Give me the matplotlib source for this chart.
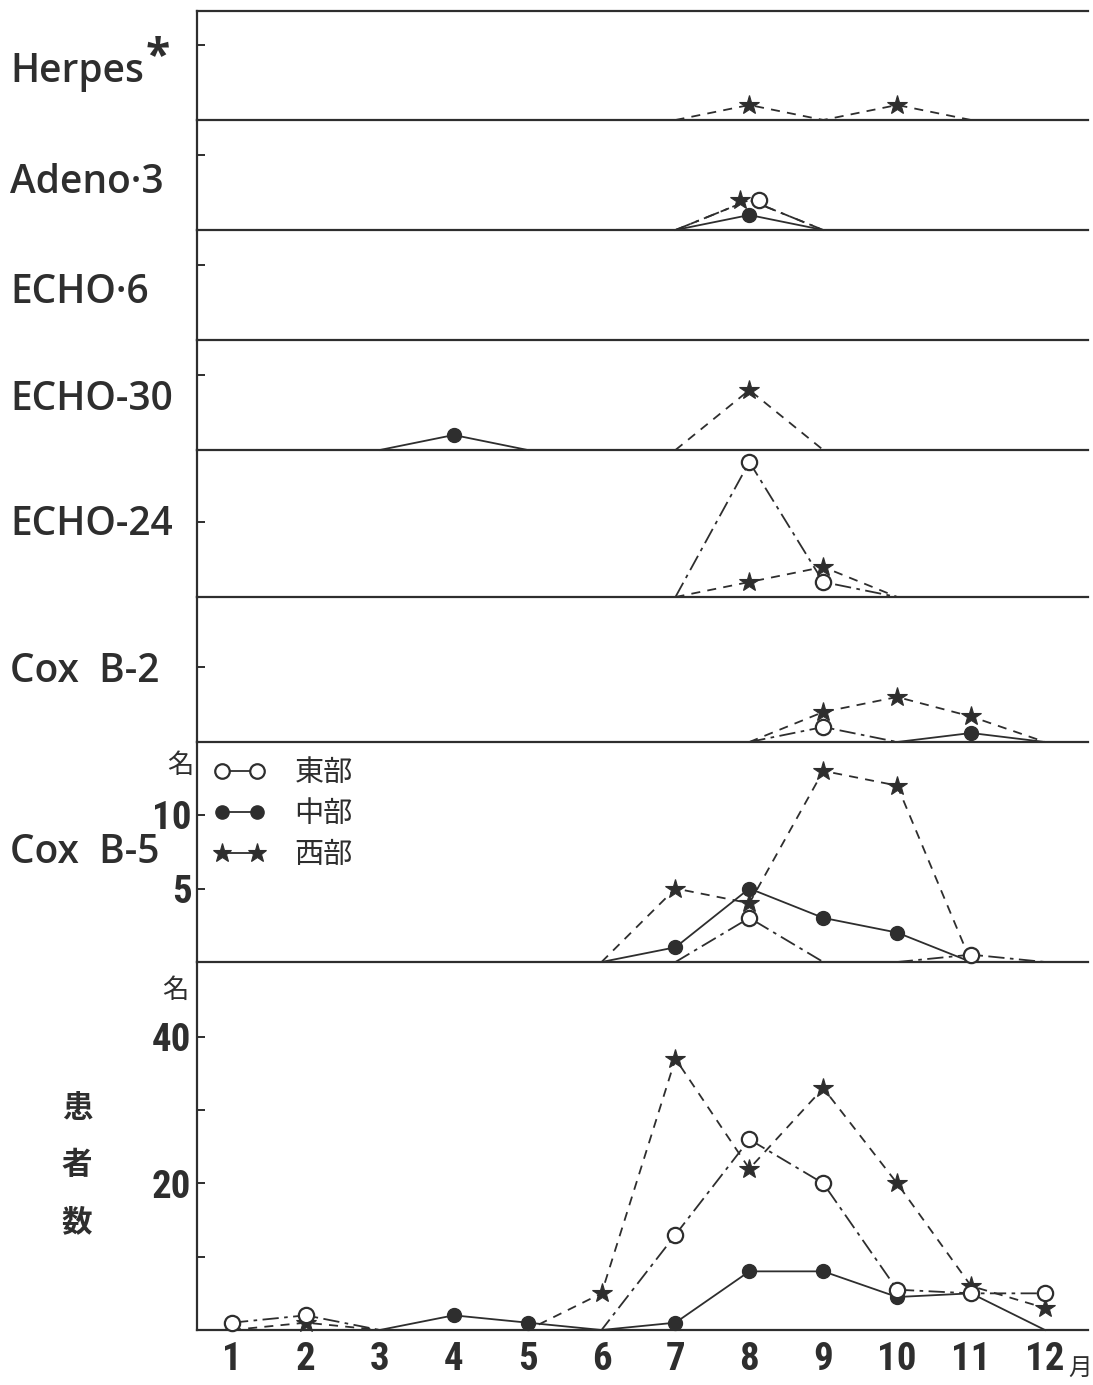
import matplotlib
matplotlib.use("Agg")
import matplotlib.pyplot as plt
import numpy as np
from matplotlib.font_manager import FontProperties
from matplotlib.lines import Line2D
from matplotlib.transforms import ScaledTranslation

nan = np.nan
W, H = 1093, 1385
INK = "#2e2e2e"

MONTHS = list(range(1, 13))
MONTH_LABELS = [str(m) for m in MONTHS]
REGIONS = ["東部", "中部", "西部"]

# monthly patient counts (east / middle / west); nan = no line drawn
HERPES_WEST = [nan, nan, nan, nan, nan, nan, 0, 1, 0, 1, 0, nan]

ADENO3_EAST = [nan, nan, nan, nan, nan, nan, 0, 2, 0, nan, nan, nan]
ADENO3_MID = [nan, nan, nan, nan, nan, nan, 0, 1, 0, nan, nan, nan]
ADENO3_WEST = [nan, nan, nan, nan, nan, nan, 0, 2, 0, nan, nan, nan]

ECHO30_MID = [nan, nan, 0, 1, 0, nan, nan, nan, nan, nan, nan, nan]
ECHO30_WEST = [nan, nan, nan, nan, nan, nan, 0, 4, 0, nan, nan, nan]

ECHO24_EAST = [nan, nan, nan, nan, nan, nan, 0, 9, 1, 0, nan, nan]
ECHO24_WEST = [nan, nan, nan, nan, nan, nan, 0, 1, 2, 0, nan, nan]

COXB2_EAST = [nan, nan, nan, nan, nan, nan, nan, 0, 1, 0, 0, 0]
COXB2_MID = [nan, nan, nan, nan, nan, nan, nan, nan, nan, 0, 0.6, 0]
COXB2_WEST = [nan, nan, nan, nan, nan, nan, nan, 0, 2, 3, 1.7, 0]

COXB5_EAST = [nan, nan, nan, nan, nan, nan, 0, 3, 0, 0, 0.5, 0]
COXB5_MID = [nan, nan, nan, nan, nan, 0, 1, 5, 3, 2, 0, 0]
COXB5_WEST = [nan, nan, nan, nan, nan, 0, 5, 4, 13, 12, 0, 0]

ALL_EAST = [1, 2, 0, 0, 0, 0, 13, 26, 20, 5.5, 5, 5]
ALL_MID = [nan, nan, 0, 2, 1, 0, 1, 8, 8, 4.5, 5, 0]
ALL_WEST = [0, 1, 0, 0, 0, 5, 37, 22, 33, 20, 6, 3]

EMPTY = [nan] * 12

# name, top px, bottom px, label y px, px per patient, series (east, mid, west)
PANELS = [
    ("Herpes", 11, 120, 72, 15.0, (EMPTY, EMPTY, HERPES_WEST)),
    ("Adeno·3", 120, 230, 183, 15.0, (ADENO3_EAST, ADENO3_MID, ADENO3_WEST)),
    ("ECHO·6", 230, 340, 293, 15.0, (EMPTY, EMPTY, EMPTY)),
    ("ECHO-30", 340, 450, 400, 15.0, (EMPTY, ECHO30_MID, ECHO30_WEST)),
    ("ECHO-24", 450, 597, 525, 15.0, (ECHO24_EAST, EMPTY, ECHO24_WEST)),
    ("Cox  B-2", 597, 742, 672, 15.0, (COXB2_EAST, COXB2_MID, COXB2_WEST)),
    ("Cox  B-5", 742, 962, 853, 14.7, (COXB5_EAST, COXB5_MID, COXB5_WEST)),
    ("", 962, 1330, 0, 7.33, (ALL_EAST, ALL_MID, ALL_WEST)),
]

STYLES = [
    dict(ls=(0, (9, 3, 2, 3)), marker="o", mfc="white", ms=11, mew=1.6),
    dict(ls="-", marker="o", mfc=INK, ms=10, mew=1.0),
    dict(ls=(0, (5, 4)), marker="*", mfc=INK, ms=15, mew=0.8),
]
MARKER_SHIFT = {("Adeno·3", 0): 10, ("Adeno·3", 2): -9}

LEFT, RIGHT = 197, 1088
X0 = 1 - (232 - LEFT) / 73.9
X1 = 12 + (RIGHT - 1045) / 73.9

NUM_FAMILY = ["Liberation Sans Narrow", "Roboto Condensed", "DejaVu Sans Condensed", "Roboto", "DejaVu Sans"]
NUM_FONT = FontProperties(family=NUM_FAMILY, weight="bold", stretch="condensed", size=28)
LABEL_FONT = FontProperties(family=["Open Sans", "DejaVu Sans"], weight="semibold", size=28)
CJK = ["Noto Sans CJK JP", "DejaVu Sans"]

fig = plt.figure(figsize=(W / 100, H / 100), dpi=100)
axes = []
labels = []
for i, (name, top, bot, label_y, scale, series) in enumerate(PANELS):
    ax = fig.add_axes([LEFT / W, 1 - bot / H, (RIGHT - LEFT) / W, (bot - top) / H])
    ax.set_xlim(X0, X1)
    ax.set_ylim(0, (bot - top) / scale)
    ax.spines["right"].set_visible(False)
    ax.spines["top"].set_visible(i == 0)
    for sp in ax.spines.values():
        sp.set_linewidth(1.6)
        sp.set_color(INK)
    ax.tick_params(axis="x", length=0, labelbottom=False)
    ax.tick_params(axis="y", direction="in", length=6, width=1.4, color=INK)
    ax.set_yticks([5])
    ax.set_yticklabels([])
    ax.patch.set_alpha(0)

    for j, vals in enumerate(series):
        v = np.array(vals, dtype=float)
        if np.all(np.isnan(v)):
            continue
        st = STYLES[j]
        m = np.array(MONTHS, dtype=float)
        ax.plot(m, v, color=INK, lw=1.3, ls=st["ls"], zorder=2, clip_on=False)
        mask = v > 0
        trans = ax.transData
        shift = MARKER_SHIFT.get((name, j))
        if shift:
            trans = trans + ScaledTranslation(shift / 100, 0, fig.dpi_scale_trans)
        ax.plot(m[mask], v[mask], ls="none", marker=st["marker"], ms=st["ms"],
                mfc=st["mfc"], mec=INK, mew=st["mew"], zorder=3 + (j == 0),
                transform=trans, clip_on=False)

    if name:
        t = fig.text(10 / W, 1 - label_y / H, name, fontproperties=LABEL_FONT,
                     color=INK, va="center")
        labels.append(t)
    axes.append(ax)

# asterisk after "Herpes"
plt.annotate("*", xy=(1, 0.85), xycoords=labels[0], xytext=(1, 0), textcoords="offset points",
             fontsize=32, color=INK, va="center", ha="left", family=["Open Sans", "DejaVu Sans"],
             weight="bold")

# Cox B-5 scale and legend
ax5 = axes[6]
ax5.set_yticks([5, 10])
ax5.set_yticklabels(["5", "10"], fontproperties=NUM_FONT, color=INK)
ax5.tick_params(axis="y", pad=4)
fig.text(180 / W, 1 - 765 / H, "名", fontsize=19, family=CJK, color=INK, ha="center", va="center")

handles = [Line2D([], [], color=INK, lw=1.3, marker=st["marker"], mfc=st["mfc"], mec=INK,
                  ms=st["ms"] * 0.95, mew=st["mew"]) for st in STYLES]
ax5.legend(handles, REGIONS, loc="upper left", bbox_to_anchor=(213 / W, 1 - 758 / H),
           bbox_transform=fig.transFigure, numpoints=2, handlelength=1.8,
           handletextpad=1.0, frameon=False, labelspacing=0.38, borderpad=0,
           borderaxespad=0, prop=FontProperties(family=CJK, size=21), labelcolor=INK)

# bottom panel (all patients)
axb = axes[7]
axb.set_yticks([10, 20, 30, 40])
axb.set_yticklabels(["", "20", "", "40"], fontproperties=NUM_FONT, color=INK)
axb.tick_params(axis="y", pad=4)
axb.set_xticks(MONTHS)
axb.set_xticklabels(MONTH_LABELS, fontproperties=NUM_FONT, color=INK)
axb.tick_params(axis="x", labelbottom=True, length=0, pad=8)
fig.text(175 / W, 1 - 990 / H, "名", fontsize=19, family=CJK, color=INK, ha="center", va="center")
fig.text(1080 / W, 1 - 1368 / H, "月", fontsize=17, family=CJK, color=INK, ha="center", va="center")
for k, ch in enumerate("患者数"):
    fig.text(77 / W, 1 - (1108 + 57 * k) / H, ch, fontsize=22, family=CJK, weight="bold",
             color=INK, ha="center", va="center")

fig.savefig("out.png", dpi=100)
